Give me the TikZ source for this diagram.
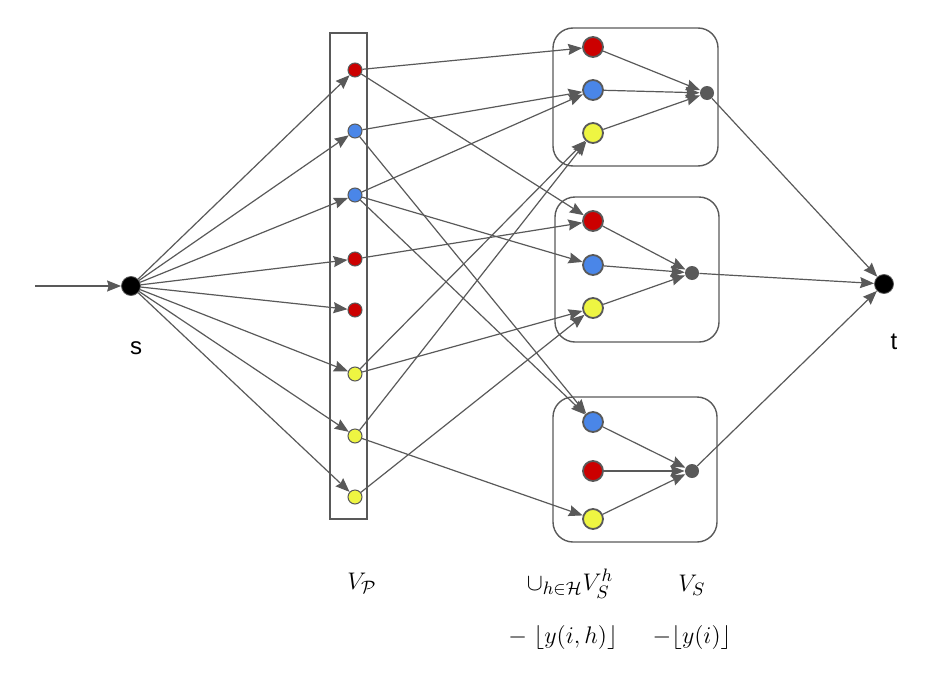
\documentclass[tikz,border=0pt]{standalone}
\usepackage{amsmath,amssymb}
\usepackage{fontspec}
\newfontfamily\labelfont{Liberation Sans}
\usepackage{tikz}
\usetikzlibrary{arrows.meta,positioning}

\definecolor{nred}{HTML}{CC0000}
\definecolor{nblue}{HTML}{4A86E8}
\definecolor{nyellow}{HTML}{EEF542}
\definecolor{edgegray}{HTML}{595959}

\begin{document}
\begin{tikzpicture}[
  x=0.5pt, y=-0.5pt,
  vnode/.style={draw=edgegray, circle, minimum size=7pt, inner sep=0pt, line width=0.5pt},
  hnode/.style={draw=edgegray, circle, minimum size=10pt, inner sep=0pt, line width=0.9pt},
  Rv/.style={vnode, fill=nred},
  Bv/.style={vnode, fill=nblue},
  Yv/.style={vnode, fill=nyellow},
  Rh/.style={hnode, fill=nred},
  Bh/.style={hnode, fill=nblue},
  Yh/.style={hnode, fill=nyellow},
  sink/.style={circle, fill=edgegray, minimum size=7pt, inner sep=0pt},
  term/.style={circle, draw=edgegray, fill=black, minimum size=9.5pt, inner sep=0pt, line width=0.4pt},
  grp/.style={draw=edgegray, line width=0.7pt, rounded corners=10pt},
  arr/.style={-{Stealth[inset=0.8pt, length=7pt, width=5.5pt]}, edgegray, line width=0.6pt},
  mlabel/.style={inner sep=0pt, font=\fontsize{13.2}{15}\selectfont}
]
\useasboundingbox (0,0) rectangle (952,680);

% source and sink
\node[term] (s) at (131,286) {};
\node[term] (t) at (884,284) {};
\coordinate (in) at (35,286);
\node[font=\labelfont\fontsize{12}{14}\selectfont] (sl) at (136,348) {s};
\node[font=\labelfont\fontsize{12}{14}\selectfont] (tl) at (894,342) {t};

% V_P column
\node[draw=edgegray, line width=0.7pt, minimum width=18.5pt, minimum height=243pt, inner sep=0pt] (vp) at (348.5,276) {};
\node[Rv] (p1) at (355,70) {};
\node[Bv] (p2) at (355,131) {};
\node[Bv] (p3) at (355,195) {};
\node[Rv] (p4) at (355,259) {};
\node[Rv] (p5) at (355,310) {};
\node[Yv] (p6) at (355,374) {};
\node[Yv] (p7) at (355,436) {};
\node[Yv] (p8) at (355,497) {};

% groups V_S^h
\draw[grp] (553,28) rectangle (718,166);
\draw[grp] (555,197) rectangle (719,342);
\draw[grp] (553,397) rectangle (717,542);

\node[Rh] (a1) at (593,47) {};
\node[Bh] (a2) at (593,90) {};
\node[Yh] (a3) at (593,133) {};
\node[sink] (q1) at (707,93) {};

\node[Rh] (b1) at (593,221) {};
\node[Bh] (b2) at (593,265) {};
\node[Yh] (b3) at (593,308) {};
\node[sink] (q2) at (692,273) {};

\node[Bh] (c1) at (593,422) {};
\node[Rh] (c2) at (593,471) {};
\node[Yh] (c3) at (593,519) {};
\node[sink] (q3) at (692,471) {};

% edges
\draw[arr] (in) -- (s);
\foreach \v in {p1,p2,p3,p4,p5,p6,p7,p8}
  \draw[arr] (s) -- (\v);
\foreach \u/\v in {p1/a1, p1/b1, p2/a2, p2/c1, p3/a2, p3/b2, p3/c1, p4/b1,
                   p6/a3, p6/b3, p7/a3, p7/c3, p8/b3}
  \draw[arr] (\u) -- (\v);
\foreach \u/\v in {a1/q1, a2/q1, a3/q1, b1/q2, b2/q2, b3/q2, c1/q3, c2/q3, c3/q3}
  \draw[arr] (\u) -- (\v);
\foreach \u in {q1,q2,q3}
  \draw[arr] (\u) -- (t);

% labels
\node[mlabel] (lp) at (362,583) {$V_{\mathcal{P}}$};
\node[mlabel] (lh) at (570,584) {$\cup_{h\in\mathcal{H}} V_S^h$};
\node[mlabel] (ls) at (692,585) {$V_S$};
\node[mlabel] (lyh) at (563,637) {$-\;\lfloor y(i,h)\rfloor$};
\node[mlabel] (ly) at (692,637) {$-\lfloor y(i)\rfloor$};
\end{tikzpicture}
\end{document}
